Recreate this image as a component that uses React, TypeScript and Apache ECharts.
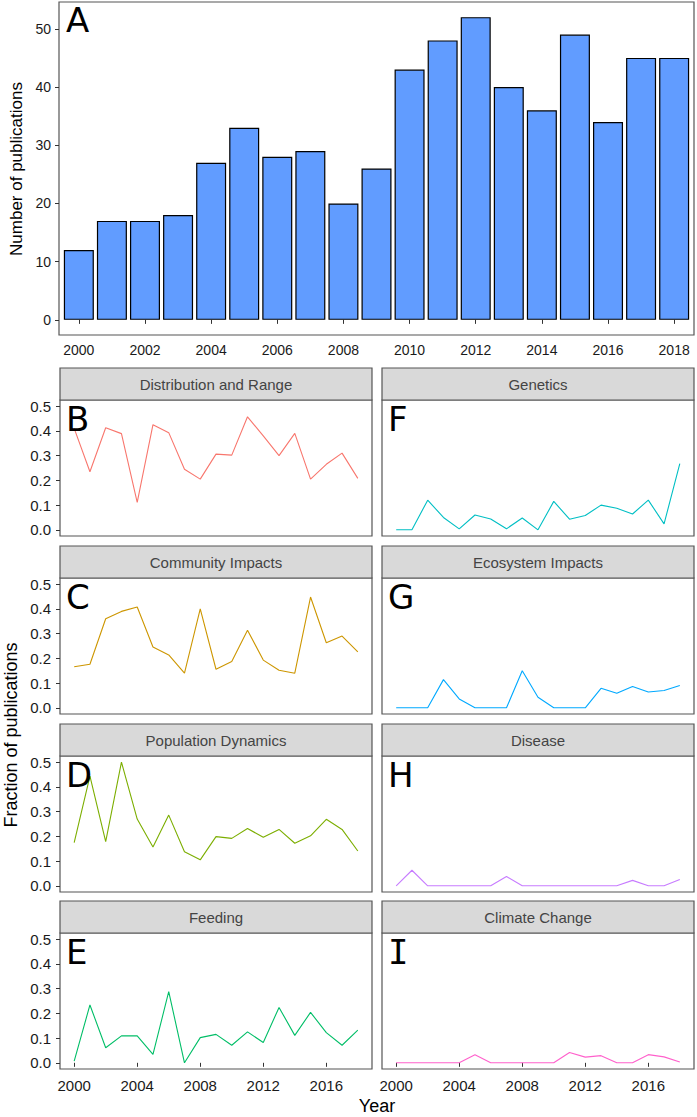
import React, { useEffect, useRef } from "react";
import * as echarts from "echarts";

const years = [2000, 2001, 2002, 2003, 2004, 2005, 2006, 2007, 2008, 2009, 2010, 2011, 2012, 2013, 2014, 2015, 2016, 2017, 2018];
const publicationCounts = [12, 17, 17, 18, 27, 33, 28, 29, 20, 26, 43, 48, 52, 40, 36, 49, 34, 45, 45];

const topTickYears = [2000, 2002, 2004, 2006, 2008, 2010, 2012, 2014, 2016, 2018];
const facetTickYears = [2000, 2004, 2008, 2012, 2016];
const countTicks = [0, 10, 20, 30, 40, 50];
const fractionTicks = [0, 0.1, 0.2, 0.3, 0.4, 0.5];

const distributionRange = [0.41, 0.235, 0.413, 0.389, 0.111, 0.425, 0.393, 0.245, 0.205, 0.306, 0.302, 0.457, 0.38, 0.3, 0.39, 0.205, 0.265, 0.31, 0.208];
const communityImpacts = [0.166, 0.176, 0.36, 0.39, 0.408, 0.246, 0.214, 0.14, 0.4, 0.156, 0.187, 0.314, 0.193, 0.152, 0.14, 0.448, 0.263, 0.29, 0.226];
const populationDynamics = [0.175, 0.444, 0.179, 0.5, 0.27, 0.157, 0.286, 0.138, 0.105, 0.199, 0.192, 0.232, 0.196, 0.228, 0.172, 0.202, 0.269, 0.228, 0.141];
const feeding = [0.007, 0.234, 0.061, 0.109, 0.109, 0.034, 0.288, 0.0, 0.102, 0.115, 0.071, 0.125, 0.082, 0.224, 0.111, 0.204, 0.122, 0.071, 0.132];
const genetics = [0, 0, 0.12, 0.05, 0.004, 0.06, 0.044, 0.004, 0.048, 0, 0.115, 0.043, 0.058, 0.1, 0.087, 0.064, 0.12, 0.024, 0.268];
const ecosystemImpacts = [0, 0, 0, 0.114, 0.036, 0, 0, 0, 0.15, 0.043, 0, 0, 0, 0.079, 0.059, 0.086, 0.064, 0.07, 0.09];
const disease = [0, 0.063, 0, 0, 0, 0, 0, 0.038, 0, 0, 0, 0, 0, 0, 0, 0.022, 0, 0, 0.026];
const climateChange = [0, 0, 0, 0, 0, 0.033, 0, 0, 0, 0, 0, 0.042, 0.023, 0.029, 0, 0, 0.033, 0.024, 0.003];

const facetNames = ["Distribution and Range", "Community Impacts", "Population Dynamics", "Feeding", "Genetics", "Ecosystem Impacts", "Disease", "Climate Change"];
const facetLetters = ["B", "C", "D", "E", "F", "G", "H", "I"];
const facetValues = [distributionRange, communityImpacts, populationDynamics, feeding, genetics, ecosystemImpacts, disease, climateChange];
const facetColors = ["#F8766D", "#CD9600", "#7CAE00", "#00BE67", "#00BFC4", "#00A9FF", "#C77CFF", "#FF61CC"];

const FONT = "Liberation Sans, Arial, sans-serif";
const BORDER = "#555555";
const colLefts = [60, 382];
const colWidth = 312;
const rowTops = [400, 578, 756, 933];
const plotHeight = 136;
const stripHeight = 32;

export default function App() {
  const ref = useRef<HTMLDivElement>(null);

  useEffect(() => {
    if (!ref.current) return;
    const chart = echarts.init(ref.current, undefined, { renderer: "svg" });
    const yearFmt = (v: number) => String(Math.round(v));

    const grids: any[] = [
      { left: 59, top: 2, width: 635, height: 333, show: true, borderColor: BORDER, borderWidth: 1.2, backgroundColor: "#fff", outerBoundsMode: "none" },
    ];
    const xAxes: any[] = [
      {
        gridIndex: 0, type: "value", min: 1999.4, max: 2018.6,
        axisLine: { show: false },
        axisTick: { show: true, length: 4, lineStyle: { color: "#333" }, customValues: topTickYears },
        axisLabel: { customValues: topTickYears, color: "#1a1a1a", fontSize: 14, margin: 8, fontFamily: FONT, formatter: yearFmt },
        splitLine: { show: false },
      },
    ];
    const yAxes: any[] = [
      {
        gridIndex: 0, type: "value", min: -2.6, max: 54.6,
        axisLine: { show: false },
        axisTick: { show: true, length: 4, lineStyle: { color: "#333" }, customValues: countTicks },
        axisLabel: { customValues: countTicks, color: "#1a1a1a", fontSize: 14, margin: 8, fontFamily: FONT },
        splitLine: { show: false },
      },
    ];
    const series: any[] = [
      {
        type: "bar", xAxisIndex: 0, yAxisIndex: 0,
        data: years.map((y, i) => [y, publicationCounts[i]]),
        barWidth: 30,
        itemStyle: { color: "#619CFF", borderColor: "#000", borderWidth: 1.2 },
      },
    ];
    const graphics: any[] = [
      { type: "text", z: 100, x: 66, y: 3, style: { text: "A", fontSize: 34, fontFamily: "DejaVu Sans", fill: "#000", textVerticalAlign: "top" } },
      { type: "text", z: 100, x: 16, y: 169, rotation: Math.PI / 2, style: { text: "Number of publications", fontSize: 17, fontFamily: FONT, fill: "#000", textAlign: "center", textVerticalAlign: "middle" } },
      { type: "text", z: 100, x: 11, y: 735, rotation: Math.PI / 2, style: { text: "Fraction of publications", fontSize: 18, fontFamily: FONT, fill: "#000", textAlign: "center", textVerticalAlign: "middle" } },
      { type: "text", z: 100, x: 377, y: 1106, style: { text: "Year", fontSize: 18, fontFamily: FONT, fill: "#000", textAlign: "center", textVerticalAlign: "middle" } },
    ];

    facetNames.forEach((name, k) => {
      const col = k < 4 ? 0 : 1;
      const row = k % 4;
      const gi = k + 1;
      const left = colLefts[col];
      const top = rowTops[row];
      grids.push({ left, top, width: colWidth, height: plotHeight, show: true, borderColor: BORDER, borderWidth: 1.2, backgroundColor: "#fff", outerBoundsMode: "none" });
      const bottomRow = row === 3;
      const leftCol = col === 0;
      xAxes.push({
        gridIndex: gi, type: "value", min: 1999.1, max: 2018.9,
        axisLine: { show: false },
        axisTick: { show: bottomRow, length: 4, lineStyle: { color: "#333" }, customValues: facetTickYears },
        axisLabel: { show: bottomRow, customValues: facetTickYears, color: "#1a1a1a", fontSize: 15, margin: 9, fontFamily: FONT, formatter: yearFmt },
        splitLine: { show: false },
      });
      yAxes.push({
        gridIndex: gi, type: "value", min: -0.025, max: 0.525,
        axisLine: { show: false },
        axisTick: { show: leftCol, length: 4, lineStyle: { color: "#333" }, customValues: fractionTicks },
        axisLabel: { show: leftCol, customValues: fractionTicks, color: "#1a1a1a", fontSize: 15, margin: 9, fontFamily: FONT, formatter: (v: number) => v.toFixed(1) },
        splitLine: { show: false },
      });
      series.push({
        type: "line", xAxisIndex: gi, yAxisIndex: gi,
        data: years.map((y, i) => [y, facetValues[k][i]]),
        showSymbol: false, symbol: "none",
        lineStyle: { color: facetColors[k], width: 1.1 },
      });
      graphics.push({
        type: "rect", z: 50,
        shape: { x: left, y: top - stripHeight, width: colWidth, height: stripHeight },
        style: { fill: "#D9D9D9", stroke: BORDER, lineWidth: 1.2 },
      });
      graphics.push({
        type: "text", z: 60, x: left + colWidth / 2, y: top - stripHeight / 2,
        style: { text: name, fontSize: 15, fontFamily: FONT, fill: "#444", textAlign: "center", textVerticalAlign: "middle" },
      });
      const letter = facetLetters[k];
      graphics.push({
        type: "text", z: 100, x: left + 6, y: top + 2,
        style: { text: letter, fontSize: 34, fontFamily: letter === "I" ? "DejaVu Sans Mono" : "DejaVu Sans", fill: "#000", textVerticalAlign: "top" },
      });
    });

    chart.setOption({
      animation: false,
      backgroundColor: "#fff",
      grid: grids,
      xAxis: xAxes,
      yAxis: yAxes,
      series,
      graphic: graphics,
    });
    return () => chart.dispose();
  }, []);

  return <div ref={ref} style={{ position: "fixed", left: 0, top: 0, width: 697, height: 1117 }} />;
}
